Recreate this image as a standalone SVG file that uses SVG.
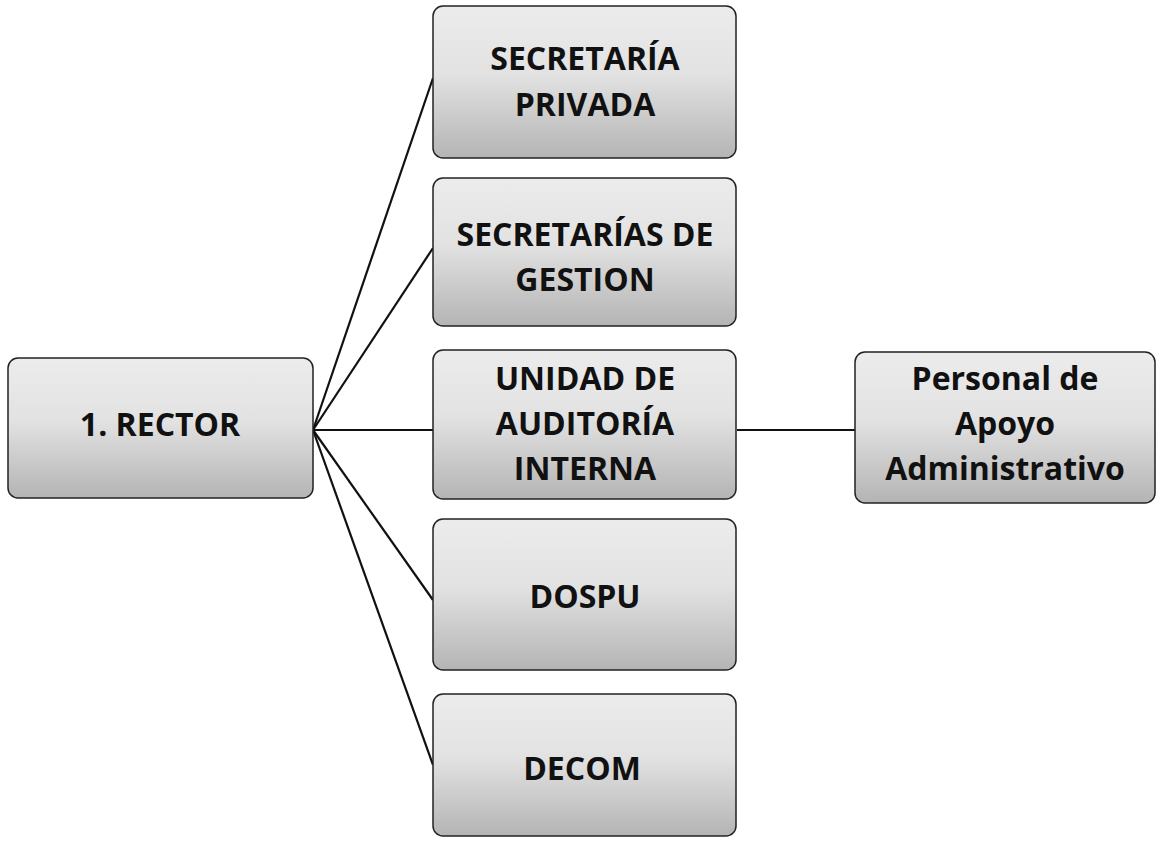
<svg xmlns="http://www.w3.org/2000/svg" width="1161" height="847" viewBox="0 0 1161 847">
<defs>
<linearGradient id="g" x1="0" y1="0" x2="0" y2="1">
<stop offset="0" stop-color="#ececec"/>
<stop offset="0.45" stop-color="#e2e2e2"/>
<stop offset="1" stop-color="#b4b4b4"/>
</linearGradient>
</defs>
<style>
.box{fill:url(#g);stroke:#222;stroke-width:1.5}
.t{font-family:"Open Sans","Liberation Sans",sans-serif;font-weight:bold;font-size:32px;fill:#111;text-anchor:middle}
.c{stroke:#111;stroke-width:2.2;fill:none}
</style>
<rect width="1161" height="847" fill="#fff"/>
<g id="connectors">
<line class="c" x1="313" y1="430" x2="433" y2="78"/>
<line class="c" x1="313" y1="430" x2="433" y2="248"/>
<line class="c" x1="313" y1="430" x2="433" y2="430"/>
<line class="c" x1="313" y1="430" x2="433" y2="600"/>
<line class="c" x1="313" y1="430" x2="433" y2="765"/>
<line class="c" x1="737" y1="430" x2="855" y2="430"/>
</g>
<g id="rector">
<rect class="box" x="8" y="358" width="305" height="140" rx="10"/>
<text class="t" x="160" y="436">1. RECTOR</text>
</g>
<g id="secretaria-privada">
<rect class="box" x="433" y="6" width="303" height="152" rx="10"/>
<text class="t" x="585" y="70">SECRETARÍA</text>
<text class="t" x="585" y="116">PRIVADA</text>
</g>
<g id="secretarias-gestion">
<rect class="box" x="433" y="178" width="303" height="148" rx="10"/>
<text class="t" x="585" y="246">SECRETARÍAS DE</text>
<text class="t" x="585" y="291">GESTION</text>
</g>
<g id="unidad-auditoria">
<rect class="box" x="433" y="350" width="303" height="149" rx="10"/>
<text class="t" x="585" y="390">UNIDAD DE</text>
<text class="t" x="585" y="435">AUDITORÍA</text>
<text class="t" x="585" y="480">INTERNA</text>
</g>
<g id="dospu">
<rect class="box" x="433" y="519" width="303" height="151" rx="10"/>
<text class="t" x="585" y="608">DOSPU</text>
</g>
<g id="decom">
<rect class="box" x="433" y="694" width="303" height="142" rx="10"/>
<text class="t" x="582" y="780">DECOM</text>
</g>
<g id="personal-apoyo">
<rect class="box" x="855" y="352" width="300" height="151" rx="10"/>
<text class="t" x="1005" y="390">Personal de</text>
<text class="t" x="1005" y="435">Apoyo</text>
<text class="t" x="1005" y="480">Administrativo</text>
</g>
</svg>
